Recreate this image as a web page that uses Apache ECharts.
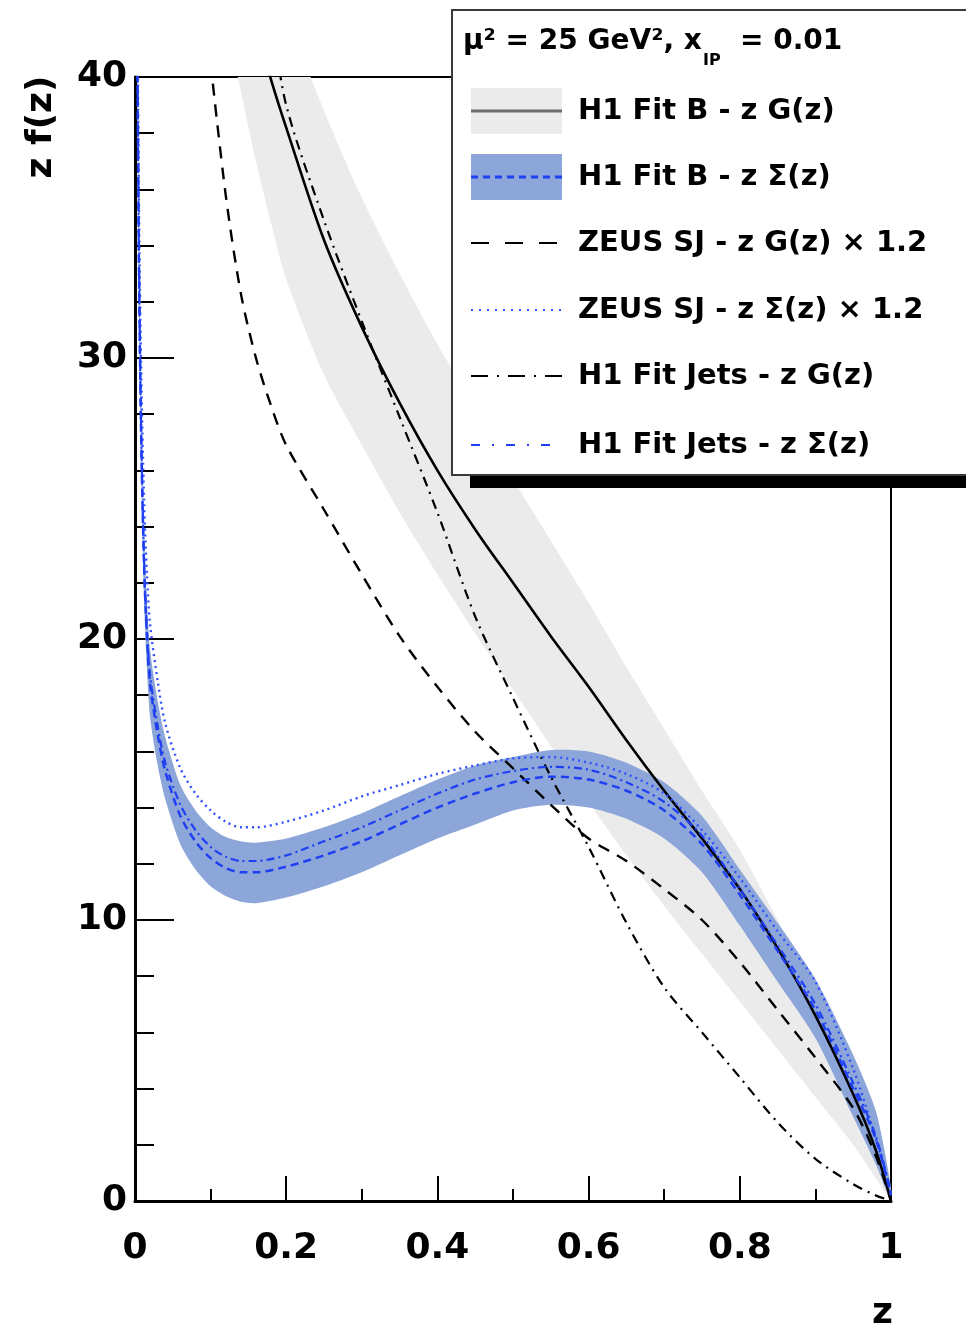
<!DOCTYPE html>
<html><head><meta charset="utf-8">
<script src="https://cdn.jsdelivr.net/npm/echarts@6/dist/echarts.min.js"></script>
<style>html,body{margin:0;padding:0;background:#fff}#c{width:966px;height:1332px}</style>
</head><body><div id="c"></div>
<script>
// ---- data ----
const zG = [0.10,0.12,0.14,0.16,0.18,0.20,0.25,0.30,0.35,0.40,0.45,0.50,0.55,0.60,0.65,0.70,0.75,0.80,0.85,0.90,0.95,0.98,1.00];
const fitB_G    = [50.0,47.0,44.5,41.8,39.9,38.2,34.2,31.1,28.4,26.0,23.9,22.0,20.1,18.3,16.4,14.6,12.9,11.1,9.0,6.6,3.8,1.8,0.0];
const fitB_G_lo = [46.0,42.0,39.5,37.0,34.8,32.8,29.4,26.9,24.5,22.3,20.2,18.2,16.2,14.2,12.3,10.5,8.8,7.1,5.4,3.7,2.0,0.8,0.0];
const fitB_G_hi = [60.0,56.0,52.0,48.0,45.0,42.4,38.8,35.7,33.0,30.5,28.2,25.7,23.5,21.3,19.0,16.8,14.6,12.5,10.0,7.3,4.3,2.0,0.0];
const zeus_G    = [40.5,35.8,32.3,30.0,28.3,26.9,24.6,22.3,20.1,18.3,16.7,15.4,14.1,12.9,12.1,11.1,10.0,8.5,6.8,5.1,3.3,1.6,0.0];
const jets_G    = [58.0,53.0,48.5,45.5,42.3,39.0,34.9,31.3,27.9,24.5,20.8,17.9,15.1,12.6,9.9,7.6,6.0,4.4,2.8,1.5,0.6,0.2,0.0];

const zS = [0.003,0.005,0.008,0.012,0.016,0.02,0.03,0.04,0.06,0.08,0.10,0.12,0.14,0.16,0.20,0.25,0.30,0.35,0.40,0.45,0.50,0.55,0.60,0.65,0.70,0.75,0.80,0.85,0.90,0.95,0.98,1.00];
const fitB_S    = [42,34,27.5,22.6,20.0,18.4,16.6,15.3,13.7,12.8,12.2,11.85,11.7,11.7,11.9,12.3,12.8,13.4,14.0,14.5,14.9,15.1,15.0,14.6,13.9,12.7,10.9,8.9,6.8,4.0,2.2,0.2];
const fitB_S_lo = [40.5,32.5,26.2,21.4,18.8,17.2,15.5,14.3,12.7,11.8,11.2,10.85,10.65,10.6,10.8,11.2,11.7,12.3,12.9,13.4,13.9,14.1,14.0,13.6,12.9,11.7,9.8,7.8,5.8,3.0,1.3,0.0];
const fitB_S_hi = [43.5,35.5,28.8,23.8,21.2,19.6,17.8,16.5,14.8,13.9,13.3,12.95,12.8,12.75,12.9,13.3,13.8,14.4,15.0,15.5,15.8,16.05,16.0,15.6,14.9,13.7,11.8,9.9,7.9,5.2,3.2,0.5];
const jets_S    = [42,34,27.6,22.8,20.2,18.7,16.9,15.6,14.1,13.2,12.6,12.25,12.1,12.1,12.3,12.8,13.3,13.9,14.5,15.0,15.3,15.45,15.35,14.9,14.2,13.0,11.1,9.1,7.0,4.2,2.3,0.3];
const zeus_S    = [44,36,29.8,24.9,22.2,20.5,18.5,17.0,15.4,14.5,13.9,13.5,13.3,13.3,13.5,13.9,14.4,14.8,15.2,15.5,15.75,15.8,15.6,15.2,14.5,13.2,11.5,9.6,7.8,4.7,2.2,0.3];

const xTicks = [0, 0.2, 0.4, 0.6, 0.8, 1];
const yTicks = [0, 10, 20, 30, 40];

const legendTitle = ['\u03bc\u00b2 = 25 GeV\u00b2, x', 'IP', '= 0.01'];
const legendLabels = [
  'H1 Fit B - z G(z)',
  'H1 Fit B - z \u03a3(z)',
  'ZEUS SJ - z G(z) \u00d7 1.2',
  'ZEUS SJ - z \u03a3(z) \u00d7 1.2',
  'H1 Fit Jets - z G(z)',
  'H1 Fit Jets - z \u03a3(z)'
];

// ---- helpers ----
const pairs = (zs, vs) => zs.map((z, i) => [z, vs[i]]);

const FONT = 'DejaVu Sans';
const BLUE = '#1f3ff2';
const GREY_BAND = '#ebebeb';
const BLUE_BAND = '#8da6d9';

function line(name, zs, vs, color, width, type, z) {
  return {
    name, type: 'line', data: pairs(zs, vs), symbol: 'none', smooth: 0.3,
    clip: true, silent: true, z: z,
    lineStyle: { color, width, type }
  };
}

// uncertainty band: polygon through upper edge then lower edge, placed via the axes (api.coord)
function band(name, zs, lo, hi, color, z) {
  return {
    name, type: 'custom', clip: true, silent: true, z: z,
    data: [[zs[zs.length - 1], lo[lo.length - 1]]],
    renderItem: (params, api) => {
      const pts = [];
      for (let i = 0; i < zs.length; i++) pts.push(api.coord([zs[i], hi[i]]));
      for (let i = zs.length - 1; i >= 0; i--) pts.push(api.coord([zs[i], lo[i]]));
      return { type: 'polygon', shape: { points: pts, smooth: 0.25 }, style: { fill: color, stroke: null } };
    }
  };
}

const series = [
  band('H1 Fit B - z G(z) band', zG, fitB_G_lo, fitB_G_hi, GREY_BAND, 1),
  band('H1 Fit B - z \u03a3(z) band', zS, fitB_S_lo, fitB_S_hi, BLUE_BAND, 2),
  line(legendLabels[2], zG, zeus_G, '#000', 2.4, [12, 9], 3),
  line(legendLabels[4], zG, jets_G, '#000', 2.2, [10, 6, 2, 6], 3),
  line(legendLabels[0], zG, fitB_G, '#000', 2.6, 'solid', 4),
  line(legendLabels[3], zS, zeus_S, '#3050ff', 2.4, [2, 4], 5),
  line(legendLabels[5], zS, jets_S, BLUE, 2.2, [8, 4, 2, 4], 5),
  line(legendLabels[1], zS, fitB_S, BLUE, 2.5, [8, 5], 5)
];

// ---- legend drawn as graphic (ROOT style box with shadow) ----
const LX = 471, LW = 91, TX = 578;
const rowY = [111, 177, 243, 310, 376, 445];
const txt = (x, y, text, size, extra) => Object.assign({
  type: 'text', x, y, z: 101,
  style: { text, fontFamily: FONT, fontWeight: 'bold', fontSize: size, fill: '#000',
           align: 'left', verticalAlign: 'middle' }
}, extra || {});
const seg = (y, color, width, dash) => ({
  type: 'line', z: 101, shape: { x1: LX, y1: y, x2: LX + LW, y2: y },
  style: { stroke: color, lineWidth: width, lineDash: dash }
});

const graphic = [
  { type: 'rect', z: 100, shape: { x: 470, y: 22, width: 540, height: 466 }, style: { fill: '#000' } },
  { type: 'rect', z: 100, shape: { x: 452, y: 10, width: 540, height: 465 },
    style: { fill: '#fff', stroke: '#3a3a3a', lineWidth: 2 } },
  txt(463, 42, legendTitle[0], 28),
  txt(703, 61, legendTitle[1], 16),
  txt(740, 42, legendTitle[2], 28),
  { type: 'rect', z: 101, shape: { x: LX, y: rowY[0] - 23, width: LW, height: 46 }, style: { fill: GREY_BAND } },
  seg(rowY[0], '#6e6e6e', 3, null),
  { type: 'rect', z: 101, shape: { x: LX, y: rowY[1] - 23, width: LW, height: 46 }, style: { fill: BLUE_BAND } },
  seg(rowY[1], BLUE, 3, [7, 5]),
  seg(rowY[2], '#000', 2, [18, 16]),
  seg(rowY[3], '#3050ff', 2, [2, 6]),
  seg(rowY[4], '#000', 2, [17, 9, 2, 9]),
  seg(rowY[5], BLUE, 2, [9, 12, 2, 12]),
  // axis titles
  { type: 'text', x: 42, y: 127, rotation: Math.PI / 2, z: 50,
    style: { text: 'z f(z)', fontFamily: FONT, fontWeight: 'bold', fontSize: 36, fill: '#000',
             align: 'center', verticalAlign: 'middle' } },
  { type: 'text', x: 893, y: 1314, z: 50,
    style: { text: 'z', fontFamily: FONT, fontWeight: 'bold', fontSize: 36, fill: '#000',
             align: 'right', verticalAlign: 'middle' } }
];
legendLabels.forEach((t, i) => graphic.push(txt(TX, rowY[i], t, 29)));

const labelStyle = { fontFamily: FONT, fontWeight: 'bold', fontSize: 36, color: '#000' };

const option = {
  animation: false,
  backgroundColor: '#fff',
  grid: { left: 135, right: 75, top: 77, bottom: 131, show: true, borderColor: '#000', borderWidth: 2,
          backgroundColor: 'transparent' },
  legend: { show: false },
  xAxis: {
    type: 'value', min: 0, max: 1, interval: 0.2,
    axisLine: { show: true, lineStyle: { color: '#000', width: 3 } },
    axisTick: { show: true, inside: true, length: 25, lineStyle: { color: '#000', width: 2 } },
    minorTick: { show: true, splitNumber: 2, length: 12, lineStyle: { color: '#000', width: 2 } },
    splitLine: { show: false },
    axisLabel: Object.assign({ margin: 30, formatter: v => {
      const f = xTicks.find(t => Math.abs(t - v) < 1e-6); return f === undefined ? '' : String(f);
    } }, labelStyle)
  },
  yAxis: {
    type: 'value', min: 0, max: 40, interval: 10,
    axisLine: { show: true, lineStyle: { color: '#000', width: 3 } },
    axisTick: { show: true, inside: true, length: 39, lineStyle: { color: '#000', width: 2 } },
    minorTick: { show: true, splitNumber: 5, length: 19, lineStyle: { color: '#000', width: 2 } },
    splitLine: { show: false },
    axisLabel: Object.assign({ margin: 8, formatter: v => {
      const f = yTicks.find(t => Math.abs(t - v) < 1e-6); return f === undefined ? '' : String(f);
    } }, labelStyle)
  },
  series,
  graphic
};

const chart = echarts.init(document.getElementById('c'), null, { renderer: 'canvas' });
chart.setOption(option);
</script></body></html>
